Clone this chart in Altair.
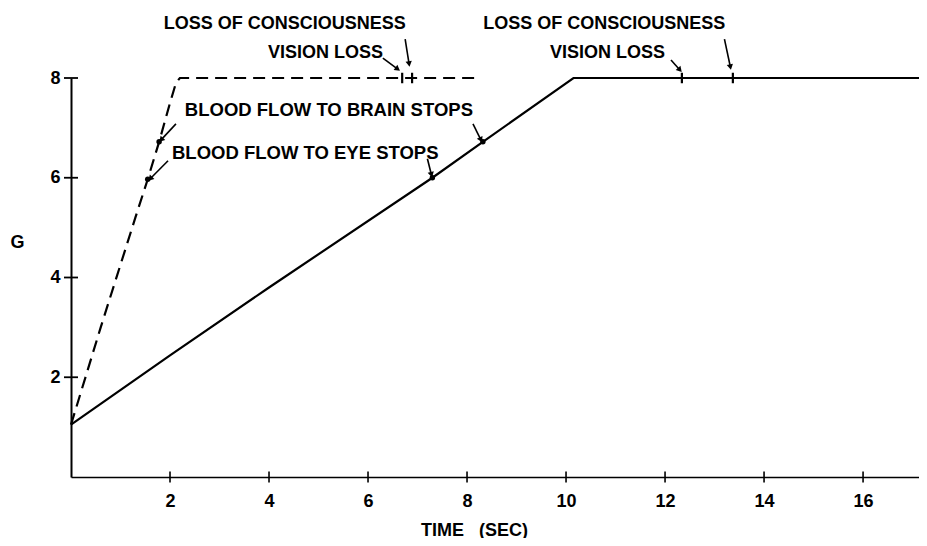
import math
import altair as alt
import pandas as pd

# ---- data ----
solid_t = [0, 2, 4, 7.3, 8.32, 10.15, 17.13]
solid_g = [1.05, 2.44, 3.8, 6.0, 6.72, 8.0, 8.0]

dashed_t = [0, 0.6, 1.3, 1.55, 1.78, 2.0, 2.12, 2.2, 8.2]
dashed_g = [1.05, 3.0, 5.2, 5.97, 6.72, 7.5, 7.9, 8.0, 8.0]

event_t = [1.55, 1.78, 7.3, 8.32]
event_g = [5.97, 6.72, 6.0, 6.72]

loss_t = [6.69, 6.89, 12.34, 13.37]
loss_g = [8, 8, 8, 8]

arrow_t1 = [6.75, 6.30, 13.20, 12.12, 2.12, 1.96, 7.20, 8.12]
arrow_g1 = [8.78, 8.40, 8.78, 8.36, 7.08, 6.34, 6.38, 7.08]
arrow_t2 = [6.83, 6.60, 13.32, 12.30, 1.82, 1.60, 7.28, 8.28]
arrow_g2 = [8.28, 8.18, 8.22, 8.16, 6.76, 5.98, 6.06, 6.76]

center_labels = ["LOSS OF CONSCIOUSNESS", "VISION LOSS", "LOSS OF CONSCIOUSNESS", "VISION LOSS"]
center_t = [4.32, 5.14, 10.77, 10.84]
center_g = [9.08, 8.50, 9.08, 8.50]

left_labels = ["BLOOD FLOW TO BRAIN STOPS", "BLOOD FLOW TO EYE STOPS"]
left_t = [2.30, 2.04]
left_g = [7.35, 6.49]

x_ticks = [2, 4, 6, 8, 10, 12, 14, 16]
y_ticks = [2, 4, 6, 8]

# ---- layout ----
X_MAX = 17.13
W = 848
H = 399
PX_X = W / X_MAX
PX_Y = H / 8
FONT = "Liberation Sans"

x_scale = alt.Scale(domain=[0, X_MAX], nice=False, zero=False)
y_scale = alt.Scale(domain=[0, 8], nice=False, zero=False)

X_AX = alt.Axis(values=x_ticks, ticks=False, tickSize=0, grid=False,
                labelFont=FONT, labelFontSize=18, labelFontWeight="bold",
                labelColor="black", labelPadding=15,
                domainColor="black", domainWidth=1.5,
                title="TIME\u00a0\u00a0\u00a0(SEC)", titleFont=FONT, titleFontSize=18,
                titleFontWeight="bold", titleColor="black",
                titleX=403, titleY=53, titleAlign="center", titleBaseline="middle")
Y_AX = alt.Axis(values=y_ticks, ticks=False, tickSize=0, grid=False,
                labelFont=FONT, labelFontSize=18, labelFontWeight="bold",
                labelColor="black", labelPadding=11,
                domainColor="black", domainWidth=2,
                title="G", titleFont=FONT, titleFontSize=18, titleFontWeight="bold",
                titleColor="black", titleAngle=0, titleX=-54, titleY=164,
                titleAlign="center", titleBaseline="middle")


def X(f="t"):
    return alt.X(f"{f}:Q", scale=x_scale, axis=X_AX)


def Y(f="g"):
    return alt.Y(f"{f}:Q", scale=y_scale, axis=Y_AX)


solid_df = pd.DataFrame({"t": solid_t, "g": solid_g, "o": range(len(solid_t))})
dashed_df = pd.DataFrame({"t": dashed_t, "g": dashed_g, "o": range(len(dashed_t))})
event_df = pd.DataFrame({"t": event_t, "g": event_g})
loss_df = pd.DataFrame({"t": loss_t, "g": loss_g})
xt_df = pd.DataFrame({"t": x_ticks, "g": [0] * len(x_ticks)})
yt_df = pd.DataFrame({"t": [0] * len(y_ticks), "g": y_ticks})

ang = []
for a, b, c, d in zip(arrow_t1, arrow_g1, arrow_t2, arrow_g2):
    dx = (c - a) * PX_X
    dy = -(d - b) * PX_Y
    ang.append(math.degrees(math.atan2(dx, -dy)) % 360)
arrow_df = pd.DataFrame({"t": arrow_t1, "g": arrow_g1, "t2": arrow_t2, "g2": arrow_g2})
head_df = pd.DataFrame({"t": arrow_t2, "g": arrow_g2, "ang": ang})

center_df = pd.DataFrame({"t": center_t, "g": center_g, "label": center_labels})
left_df = pd.DataFrame({"t": left_t, "g": left_g, "label": left_labels})

solid = alt.Chart(solid_df).mark_line(color="black", strokeWidth=2.2).encode(
    x=X(), y=Y(), order="o:Q")
dashed = alt.Chart(dashed_df).mark_line(color="black", strokeWidth=2.2,
                                         strokeDash=[12, 7]).encode(
    x=X(), y=Y(), order="o:Q")
xticks = alt.Chart(xt_df).mark_point(shape="M0,-1L0,1", size=121, filled=False,
                                     color="black", strokeWidth=1.6, opacity=1).encode(
    x=X(), y=Y())
yticks = alt.Chart(yt_df).mark_point(shape="M-1,0L1,0", size=196, filled=False,
                                     color="black", strokeWidth=1.8, opacity=1).encode(
    x=X(), y=Y())
loss = alt.Chart(loss_df).mark_point(shape="M0,-1L0,1", size=110, filled=False,
                                     color="black", strokeWidth=2.2, opacity=1).encode(
    x=X(), y=Y())
events = alt.Chart(event_df).mark_circle(size=30, color="black", opacity=1).encode(
    x=X(), y=Y())
arrows = alt.Chart(arrow_df).mark_rule(color="black", strokeWidth=1.6).encode(
    x=X(), y=Y(), x2="t2:Q", y2="g2:Q")
heads = alt.Chart(head_df).mark_point(shape="triangle-up", size=40, filled=True,
                                      color="black", opacity=1).encode(
    x=X(), y=Y(), angle=alt.Angle("ang:Q", scale=None))
ctext = alt.Chart(center_df).mark_text(font=FONT, fontSize=18, fontWeight="bold",
                                       color="black", align="center",
                                       baseline="middle").encode(
    x=X(), y=Y(), text="label:N")
ltext = alt.Chart(left_df).mark_text(font=FONT, fontSize=18.5, fontWeight="bold",
                                     color="black", align="left",
                                     baseline="middle").encode(
    x=X(), y=Y(), text="label:N")

chart = alt.layer(solid, dashed, xticks, yticks, loss, events, arrows, heads,
                  ctext, ltext).properties(
    width=W, height=H, autosize="none",
    padding={"left": 63, "top": 70, "right": 0, "bottom": 61},
    background="white",
).configure_view(stroke=None)

chart.save("out.html", embed_options={"renderer": "svg", "actions": False})
